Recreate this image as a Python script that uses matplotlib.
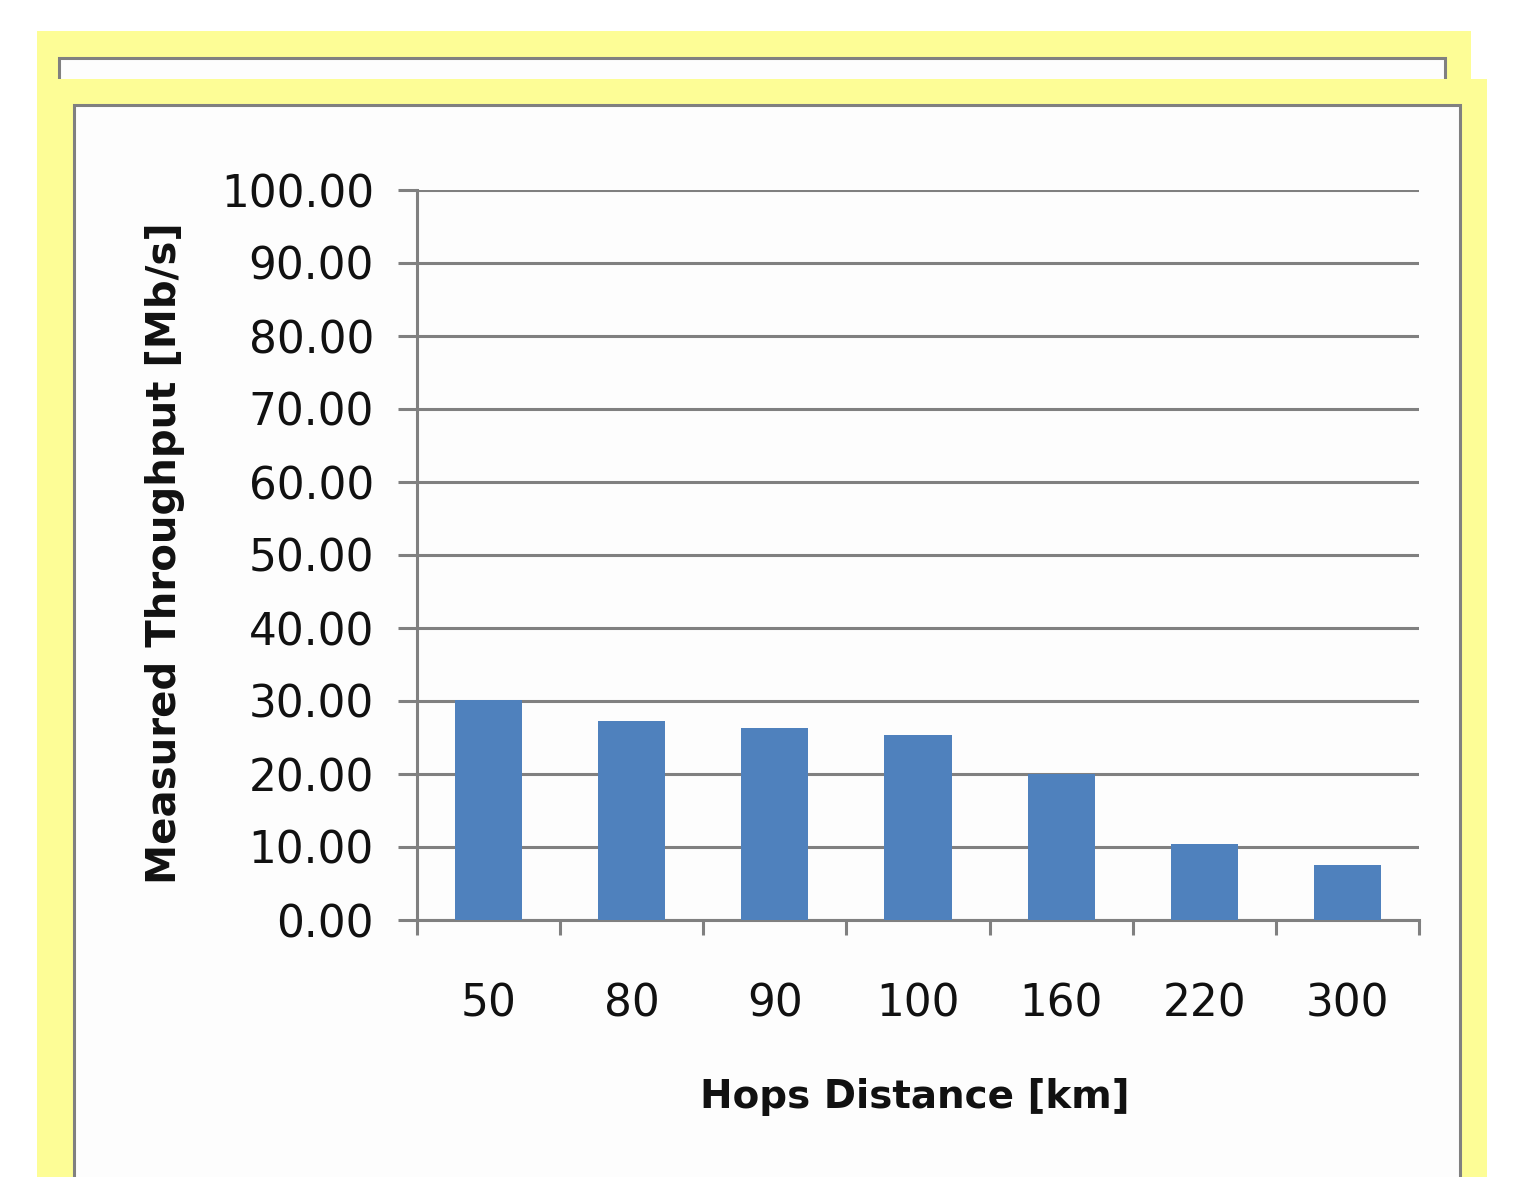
import matplotlib
matplotlib.use("Agg")
import matplotlib.pyplot as plt
from matplotlib.patches import Rectangle

# Data
distances = ["50", "80", "90", "100", "160", "220", "300"]
throughput = [30.1, 27.3, 26.3, 25.3, 20.0, 10.4, 7.5]
y_ticks = [0, 10, 20, 30, 40, 50, 60, 70, 80, 90, 100]

W, H = 1524, 1177
DPI = 100
YELLOW = "#FDFD96"
GRAY = "#808080"
BAR = "#4F81BD"

fig = plt.figure(figsize=(W / DPI, H / DPI), dpi=DPI, facecolor="white")


def px_rect(x0, y0, x1, y1, **kw):
    """Rectangle given in pixel coordinates measured from the top-left corner."""
    r = Rectangle((x0 / W, 1 - y1 / H), (x1 - x0) / W, (y1 - y0) / H,
                  transform=fig.transFigure, **kw)
    fig.add_artist(r)
    return r


# Stacked slide-like frames behind the chart
px_rect(37, 31, 1471, 300, facecolor=YELLOW, edgecolor="none", zorder=0)
px_rect(59, 58, 1445, 300, facecolor="#FDFDFD", edgecolor=GRAY, linewidth=2.2, zorder=0.1)
px_rect(37, 79, 1487, 1200, facecolor=YELLOW, edgecolor="none", zorder=0.2)
px_rect(74, 105, 1460, 1200, facecolor="#FDFDFD", edgecolor=GRAY, linewidth=2.2, zorder=0.3)

ax_left, ax_right, ax_top, ax_bottom = 417, 1419, 190, 920
ax = fig.add_axes([ax_left / W, 1 - ax_bottom / H,
                   (ax_right - ax_left) / W, (ax_bottom - ax_top) / H])
ax.set_facecolor("none")
ax.set_zorder(1)

x = list(range(len(distances)))
ax.bar(x, throughput, width=0.47, color=BAR, zorder=3)

ax.set_xlim(-0.5, len(distances) - 0.5)
ax.set_ylim(0, 100)

# Horizontal gridlines
ax.set_yticks(y_ticks)
ax.set_yticklabels([f"{v:.2f}" for v in y_ticks])
ax.yaxis.grid(True, color=GRAY, linewidth=2.2, zorder=1)
ax.set_axisbelow(True)

# Category boundary ticks (major) and category labels (minor)
ax.set_xticks([i - 0.5 for i in range(len(distances) + 1)])
ax.set_xticklabels([])
ax.set_xticks(x, minor=True)
ax.set_xticklabels(distances, minor=True)

ax.tick_params(axis="x", which="major", length=11, width=2.2, color=GRAY, direction="out")
ax.tick_params(axis="x", which="minor", length=0, pad=45, labelsize=31.5, labelcolor="#111111")
ax.tick_params(axis="y", which="major", length=14, width=2.2, color=GRAY, direction="out",
               pad=17, labelsize=31.5, labelcolor="#111111")

for side in ("top", "right"):
    ax.spines[side].set_visible(False)
for side in ("left", "bottom"):
    ax.spines[side].set_color(GRAY)
    ax.spines[side].set_linewidth(2.2)

fig.text(165 / W, 1 - 553 / H, "Measured Throughput [Mb/s]", rotation=90,
         ha="center", va="center", fontsize=29, fontweight="bold", color="#111111")
fig.text(915 / W, 1 - 1097 / H, "Hops Distance [km]",
         ha="center", va="center", fontsize=28, fontweight="bold", color="#111111")

fig.savefig("out.png", dpi=DPI, facecolor="white")
